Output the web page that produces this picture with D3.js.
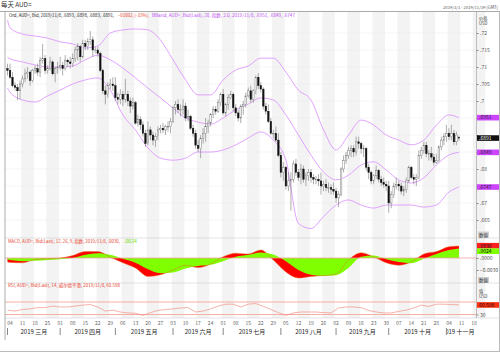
<!DOCTYPE html>
<html>
<head>
<meta charset="utf-8">
<script src="https://cdn.jsdelivr.net/npm/d3@7"></script>
<style>
body { margin: 0; background: #fff; }
text { font-family: "Noto Sans CJK SC", "Noto Sans", sans-serif; }
</style>
</head>
<body>
<div id="chart"></div>
<script>
const width = 500;
const height = 352;

// ---- data ----
const firstDay = "2019-03-01";
const axisEnd = "2019-11-19";

const opens = [.7095,.7090,.7070,.7045,.7040,.7030,.7050,.7065,.7080,.7085,.7060,
  .7090,.7095,.7085,.7120,.7125,.7090,.7095,.7115,.7080,.7095,
  .7100,.7105,.7095,.7120,.7115,.7110,.7125,.7150,.7160,.7130,
  .7170,.7160,.7175,.7180,.7150,.7150,.7140,.7090,.7030,.7020,
  .7045,.7050,.7045,.7010,.7005,.7020,.7005,.7020,.7000,.6985,
  .6995,.6935,.6945,.6930,.6905,.6875,.6915,.6900,.6885,.6895,
  .6915,.6920,.6915,.6925,.6925,.6940,.6980,.6990,.6975,.6975,
  .6985,.6950,.6955,.6920,.6905,.6870,.6860,.6890,.6905,.6925,
  .6935,.6960,.6975,.6970,.6995,.7020,.6965,.6990,.7010,.7020,
  .6980,.6965,.6950,.6985,.6990,.7015,.7030,.7005,.7030,.7070,
  .7045,.7035,.6985,.6970,.6940,.6905,.6905,.6885,.6840,.6790,
  .6805,.6750,.6765,.6770,.6815,.6790,.6775,.6800,.6770,.6780,
  .6790,.6775,.6770,.6770,.6765,.6750,.6755,.6745,.6745,.6740,
  .6735,.6715,.6725,.6800,.6825,.6840,.6855,.6860,.6850,.6880,
  .6875,.6860,.6860,.6805,.6790,.6765,.6780,.6795,.6770,.6760,
  .6755,.6750,.6700,.6725,.6750,.6755,.6750,.6735,.6740,.6765,
  .6805,.6775,.6770,.6775,.6840,.6855,.6870,.6845,.6845,.6835,
  .6820,.6825,.6865,.6885,.6895,.6905,.6895,.6905,.6880,.6893];

const highs = [.7110,.7110,.7085,.7055,.7050,.7060,.7075,.7095,.7100,.7090,.7095,
  .7105,.7110,.7130,.7168,.7135,.7105,.7130,.7120,.7100,.7115,
  .7130,.7115,.7135,.7125,.7130,.7140,.7160,.7170,.7165,.7180,
  .7180,.7185,.7206,.7190,.7160,.7160,.7145,.7095,.7045,.7055,
  .7065,.7070,.7070,.7025,.7035,.7030,.7065,.7030,.7010,.7010,
  .7000,.6960,.6955,.6940,.6915,.6940,.6925,.6910,.6905,.6925,
  .6930,.6935,.6930,.6940,.6950,.6985,.7000,.7005,.6990,.7005,
  .6995,.6975,.6960,.6930,.6915,.6885,.6900,.6920,.6950,.6945,
  .6965,.6985,.6985,.7005,.7025,.7035,.6995,.7020,.7030,.7025,
  .6990,.6975,.6990,.7000,.7025,.7040,.7045,.7035,.7075,.7082,
  .7055,.7040,.6995,.6990,.6950,.6915,.6925,.6905,.6850,.6820,
  .6810,.6790,.6790,.6825,.6830,.6800,.6815,.6810,.6790,.6800,
  .6800,.6785,.6780,.6785,.6790,.6765,.6770,.6760,.6755,.6760,
  .6745,.6735,.6805,.6840,.6850,.6865,.6870,.6870,.6895,.6895,
  .6880,.6870,.6865,.6815,.6795,.6785,.6810,.6800,.6780,.6775,
  .6765,.6765,.6735,.6760,.6775,.6765,.6760,.6750,.6775,.6810,
  .6810,.6785,.6785,.6855,.6865,.6880,.6880,.6855,.6865,.6845,
  .6845,.6870,.6895,.6905,.6930,.6920,.6930,.6915,.6910,.6898];

const lows = [.7075,.7065,.7040,.7030,.7003,.7005,.7040,.7055,.7065,.7045,.7055,
  .7080,.7075,.7070,.7110,.7080,.7080,.7090,.7075,.7055,.7080,
  .7090,.7075,.7090,.7100,.7095,.7100,.7115,.7120,.7115,.7125,
  .7150,.7150,.7165,.7130,.7140,.7130,.7085,.7020,.6990,.7010,
  .7035,.7030,.7000,.6990,.6990,.6985,.6995,.6985,.6965,.6975,
  .6930,.6925,.6915,.6895,.6865,.6870,.6885,.6870,.6865,.6885,
  .6905,.6905,.6900,.6910,.6905,.6935,.6960,.6965,.6955,.6960,
  .6940,.6940,.6915,.6895,.6860,.6850,.6832,.6875,.6880,.6905,
  .6925,.6950,.6960,.6965,.6985,.6960,.6955,.6975,.7005,.6970,
  .6955,.6940,.6935,.6960,.6980,.7010,.6995,.6995,.7020,.7035,
  .7025,.6975,.6960,.6935,.6900,.6890,.6880,.6835,.6775,.6765,
  .6740,.6735,.6677,.6760,.6780,.6765,.6755,.6760,.6750,.6765,
  .6760,.6755,.6755,.6750,.6725,.6735,.6735,.6730,.6725,.6725,
  .6700,.6688,.6720,.6790,.6815,.6830,.6835,.6835,.6840,.6860,
  .6845,.6835,.6795,.6770,.6755,.6755,.6770,.6760,.6750,.6745,
  .6735,.6671,.6685,.6715,.6740,.6735,.6725,.6720,.6730,.6760,
  .6770,.6755,.6750,.6770,.6830,.6845,.6835,.6825,.6825,.6810,
  .6815,.6820,.6855,.6870,.6880,.6885,.6885,.6870,.6870,.6883];

const closes = [.7090,.7070,.7045,.7040,.7030,.7050,.7065,.7080,.7085,.7060,.7090,
  .7095,.7085,.7120,.7125,.7090,.7095,.7115,.7080,.7095,.7100,
  .7105,.7095,.7120,.7115,.7110,.7125,.7150,.7160,.7130,.7170,
  .7160,.7175,.7180,.7150,.7150,.7140,.7090,.7030,.7020,.7045,
  .7050,.7045,.7010,.7005,.7020,.7005,.7020,.7000,.6985,.6995,
  .6935,.6945,.6930,.6905,.6875,.6915,.6900,.6885,.6895,.6915,
  .6920,.6915,.6925,.6925,.6940,.6980,.6990,.6975,.6975,.6985,
  .6950,.6955,.6920,.6905,.6870,.6860,.6890,.6905,.6925,.6935,
  .6960,.6975,.6970,.6995,.7020,.6965,.6990,.7010,.7020,.6980,
  .6965,.6950,.6985,.6990,.7015,.7030,.7005,.7030,.7070,.7045,
  .7035,.6985,.6970,.6940,.6905,.6905,.6885,.6840,.6790,.6805,
  .6750,.6765,.6770,.6815,.6790,.6775,.6800,.6770,.6780,.6790,
  .6775,.6770,.6770,.6765,.6750,.6755,.6745,.6745,.6740,.6735,
  .6715,.6725,.6800,.6825,.6840,.6855,.6860,.6850,.6880,.6875,
  .6860,.6860,.6805,.6790,.6765,.6780,.6795,.6770,.6760,.6755,
  .6750,.6700,.6725,.6750,.6755,.6750,.6735,.6740,.6765,.6805,
  .6775,.6770,.6775,.6840,.6855,.6870,.6845,.6845,.6835,.6820,
  .6825,.6865,.6885,.6895,.6905,.6895,.6905,.6880,.6900,.6891];

// weekly samples of the indicator curves
const weekDays = ["2019-03-01","2019-03-04","2019-03-11","2019-03-18","2019-03-25",
  "2019-04-01","2019-04-08","2019-04-15","2019-04-22","2019-04-29",
  "2019-05-06","2019-05-13","2019-05-20","2019-05-27",
  "2019-06-03","2019-06-10","2019-06-17","2019-06-24",
  "2019-07-01","2019-07-08","2019-07-15","2019-07-22","2019-07-29",
  "2019-08-05","2019-08-12","2019-08-19","2019-08-26",
  "2019-09-02","2019-09-09","2019-09-16","2019-09-23","2019-09-30",
  "2019-10-07","2019-10-14","2019-10-21","2019-10-28",
  "2019-11-04","2019-11-08"];

const bbUpper = [.7238,.7215,.7197,.7191,.7185,.7174,.7168,.7156,.7162,.7200,
  .7209,.7212,.7209,.7179,.7121,.7062,.7018,.7018,.7062,.7091,
  .7103,.7126,.7126,.7085,.7032,.7003,.6915,.6856,.6900,.6944,
  .6929,.6900,.6885,.6871,.6885,.6929,.6959,.6951];
const bbMiddle = [.7129,.7124,.7115,.7106,.7100,.7100,.7103,.7121,.7135,.7121,
  .7097,.7068,.7038,.7009,.6979,.6950,.6938,.6932,.6950,.6974,
  .6991,.7009,.7003,.6959,.6900,.6841,.6791,.6768,.6782,.6812,
  .6821,.6797,.6768,.6759,.6774,.6812,.6841,.6849];
const bbLower = [.7038,.7026,.7003,.6997,.7015,.7032,.7050,.7062,.7068,.7032,
  .6959,.6915,.6862,.6832,.6826,.6832,.6850,.6850,.6856,.6871,
  .6891,.6909,.6885,.6826,.6640,.6625,.6660,.6694,.6709,.6694,
  .6685,.6694,.6694,.6694,.6688,.6694,.6732,.6747];

const macdValues = [-.0010,-.0011,-.0012,-.0004,-.0002,.0000,.0006,.0016,.0016,.0002,
  -.0012,-.0025,-.0046,-.0042,-.0030,-.0018,-.0024,-.0015,.0003,.0012,
  .0010,.0020,-.0005,-.0035,-.0050,-.0046,-.0044,-.0040,-.0005,.0013,
  .0003,-.0012,-.0018,-.0010,.0010,.0016,.0028,.0030];
const signalValues = [-.0004,-.0005,-.0008,-.0007,-.0005,-.0003,.0000,.0008,.0012,.0008,
  -.0002,-.0012,-.0028,-.0038,-.0036,-.0026,-.0020,-.0017,-.0008,.0003,
  .0008,.0014,.0009,-.0008,-.0030,-.0042,-.0045,-.0043,-.0025,.0003,
  .0006,-.0003,-.0010,-.0013,-.0002,.0010,.0020,.0024];

// RSI, one reading every third trading day
const rsiEvery = 3;
const rsiValues = [44,41,46,48,52,52,57,54,54,57,60,62,54,41,44,38,35,34,27,36,
  43,46,48,51,52,38,41,48,57,63,63,54,63,65,56,46,36,27,35,38,
  38,38,36,35,51,54,54,52,43,38,35,35,40,44,51,60,56,63,63,62,60.598];

const priceTicks = [.72,.715,.71,.705,.7,.695,.69,.685,.68,.675,.67,.665];
const macdTicks = [0, -.003];
const monthNames = ["2019 三月","2019 四月","2019 五月","2019 六月","2019 七月",
  "2019 八月","2019 九月","2019 十月","2019 十一月"];

// ---- trading days ----
const parse = d3.timeParse("%Y-%m-%d");
const axisDays = d3.timeDay.range(parse(firstDay), d3.timeDay.offset(parse(axisEnd), 1))
  .filter(d => d.getDay() !== 0 && d.getDay() !== 6);
const dayIndex = s => axisDays.findIndex(d => +d === +parse(s));

const plotLeft = 5, plotRight = 476.5;
const mainTop = 12, mainBottom = 238, macdBottom = 283, rsiBottom = 318;

const x = d3.scaleLinear().domain([0, axisDays.length - 1]).range([7.5, 476.5]);
const step = x(1) - x(0);
const yPrice = d3.scaleLinear().domain([.665, .72]).range([220, 33]);
const yMacd = d3.scaleLinear().domain([0, .003]).range([258, 246]);
const yRsi = d3.scaleLinear().domain([30, 70]).range([314.5, 302]);

const svg = d3.select("#chart")
    .append("svg")
    .attr("width", width)
    .attr("height", height);

const defs = svg.append("defs");
[["clipMain", mainTop, mainBottom], ["clipMacd", mainBottom, macdBottom], ["clipRsi", macdBottom, rsiBottom]]
  .forEach(([id, t, b]) => {
    defs.append("clipPath").attr("id", id).append("rect")
      .attr("x", plotLeft).attr("y", t).attr("width", plotRight - plotLeft).attr("height", b - t);
  });

// weekly background stripes
const mondays = axisDays.map((d, i) => ({d, i})).filter(o => o.d.getDay() === 1);
svg.append("g").selectAll("rect")
    .data(mondays.filter((m, k) => k % 2 === 1))
    .enter()
    .append("rect")
    .attr("x", m => x(m.i) - step / 2)
    .attr("width", step * 5)
    .attr("y", mainTop)
    .attr("height", rsiBottom - mainTop)
    .attr("fill", "#f3f3f3");

// horizontal grid in price panel
svg.append("g").selectAll("line")
    .data(priceTicks)
    .enter()
    .append("line")
    .attr("x1", plotLeft).attr("x2", plotRight)
    .attr("y1", d => yPrice(d)).attr("y2", d => yPrice(d))
    .attr("stroke", "#ebebeb").attr("stroke-width", 0.5);

// title + header
svg.append("text").attr("x", 1).attr("y", 6.5).attr("font-size", 6.4).attr("fill", "#333").text("每天 AUD=");
svg.append("text").attr("x", 498).attr("y", 8.5).attr("text-anchor", "end").attr("font-size", 4.2)
    .attr("fill", "#555").text("2019/3/1 - 2019/11/19 (GMT)");
svg.append("line").attr("x1", 0).attr("x2", width).attr("y1", 11.5).attr("y2", 11.5)
    .attr("stroke", "#aaa").attr("stroke-width", 1);

// ---- Bollinger bands ----
const bandIdx = weekDays.map(dayIndex);
const bandLine = d3.line()
    .x((d, j) => x(bandIdx[j]))
    .y(d => yPrice(d))
    .curve(d3.curveMonotoneX);
const mainG = svg.append("g").attr("clip-path", "url(#clipMain)");
[bbUpper, bbMiddle, bbLower].forEach(vals => {
  mainG.append("path").attr("d", bandLine(vals))
    .attr("fill", "none").attr("stroke", "#d98cff").attr("stroke-width", 0.8);
});

// ---- candles ----
const candles = closes.map((c, i) => ({i, o: opens[i], h: highs[i], l: lows[i], c}));
mainG.selectAll("line.wick")
    .data(candles)
    .join("line")
    .attr("class", "wick")
    .attr("x1", d => x(d.i)).attr("x2", d => x(d.i))
    .attr("y1", d => yPrice(d.h)).attr("y2", d => yPrice(d.l))
    .attr("stroke", "#777").attr("stroke-width", 0.6);
mainG.selectAll("rect.body")
    .data(candles)
    .join("rect")
    .attr("class", "body")
    .attr("x", d => x(d.i) - 0.8)
    .attr("width", 1.6)
    .attr("y", d => yPrice(Math.max(d.o, d.c)))
    .attr("height", d => Math.max(0.6, Math.abs(yPrice(d.o) - yPrice(d.c))))
    .attr("fill", d => d.c >= d.o ? "#fff" : "#111")
    .attr("stroke", d => d.c >= d.o ? "#666" : "#111")
    .attr("stroke-width", 0.4);

// ---- MACD ----
const macdG = svg.append("g").attr("clip-path", "url(#clipMacd)");
const macdArea = vals => d3.area()
    .x((d, j) => x(bandIdx[j]))
    .y0(yMacd(0))
    .y1(d => yMacd(d))
    .curve(d3.curveMonotoneX)(vals);
macdG.append("path").attr("d", macdArea(macdValues)).attr("fill", "#ff0000");
macdG.append("path").attr("d", macdArea(signalValues)).attr("fill", "#80ff00");
macdG.append("line").attr("x1", plotLeft).attr("x2", plotRight)
    .attr("y1", yMacd(0)).attr("y2", yMacd(0)).attr("stroke", "#f0a0a0").attr("stroke-width", 0.8);
macdG.append("path")
    .attr("d", d3.line().x((d, j) => x(bandIdx[j])).y(d => yMacd(d)).curve(d3.curveMonotoneX)(macdValues))
    .attr("fill", "none").attr("stroke", "#e0702a").attr("stroke-width", 0.5);

// ---- RSI ----
const rsiG = svg.append("g").attr("clip-path", "url(#clipRsi)");
[70, 30].forEach(v => {
  rsiG.append("line").attr("x1", plotLeft).attr("x2", plotRight)
    .attr("y1", yRsi(v)).attr("y2", yRsi(v)).attr("stroke", "#f4a898").attr("stroke-width", 0.9);
});
rsiG.append("path")
    .attr("d", d3.line().x((d, k) => x(k * rsiEvery)).y(d => yRsi(d))(rsiValues))
    .attr("fill", "none").attr("stroke", "#f08070").attr("stroke-width", 0.6);

// panel separators and frame
[mainBottom, macdBottom, rsiBottom].forEach(yv => {
  svg.append("line").attr("x1", plotLeft).attr("x2", width).attr("y1", yv).attr("y2", yv)
    .attr("stroke", "#d0d0d0").attr("stroke-width", 0.6);
});
svg.append("line").attr("x1", plotLeft).attr("x2", plotLeft).attr("y1", mainTop).attr("y2", 340)
    .attr("stroke", "#999").attr("stroke-width", 0.8);
svg.append("line").attr("x1", plotRight).attr("x2", plotRight).attr("y1", mainTop).attr("y2", rsiBottom)
    .attr("stroke", "#999").attr("stroke-width", 0.6);
svg.append("line").attr("x1", width - 0.5).attr("x2", width - 0.5).attr("y1", mainTop).attr("y2", height)
    .attr("stroke", "#bbb").attr("stroke-width", 1);
svg.append("line").attr("x1", 0).attr("x2", width).attr("y1", height - 0.5).attr("y2", height - 0.5)
    .attr("stroke", "#bbb").attr("stroke-width", 1);

// ---- legends ----
function legend(parts, yv) {
  parts.forEach(p => {
    svg.append("text").attr("x", p.x0).attr("y", yv).attr("font-size", 4.4).attr("fill", p.color)
      .attr("textLength", p.x1 - p.x0).attr("lengthAdjust", "spacingAndGlyphs").text(p.t);
  });
}
const lastI = closes.length - 1;
const f4 = d3.format(".4f");
const fp = v => f4(v).replace(/^(-?)0/, "$1");
legend([
  {t: `Ord, AUD=, Bid, 2019/11/8, ${fp(opens[lastI])}, ${fp(highs[lastI])}, ${fp(lows[lastI])}, ${fp(closes[lastI])},`, color: "#222", x0: 9, x1: 114},
  {t: `${fp(closes[lastI] - opens[lastI])}, (-.03%),`, color: "#e8402a", x0: 118, x1: 149},
  {t: `BBand, AUD=, Bid(Last), 20, 指数, 2.0, 2019/11/8, ${fp(bbUpper[bbUpper.length - 1])}, ${fp(bbMiddle[bbMiddle.length - 1])}, ${fp(bbLower[bbLower.length - 1])}`, color: "#c050f0", x0: 152, x1: 295}
], 16.5);
legend([
  {t: `MACD, AUD=, Bid(Last), 12, 26, 9, 指数, 2019/11/8, ${fp(macdValues[macdValues.length - 1])},`, color: "#e8402a", x0: 8, x1: 120},
  {t: fp(signalValues[signalValues.length - 1]), color: "#66dd00", x0: 124, x1: 137}
], 242.5);
legend([
  {t: `RSI, AUD=, Bid(Last), 14, 威尔德平滑, 2019/11/8, ${rsiValues[rsiValues.length - 1]}`, color: "#e8402a", x0: 8, x1: 120}
], 287);

// ---- value tags (computed first so hidden tick labels can be skipped) ----
const tags = [
  {v: fp(bbUpper[bbUpper.length - 1]), y: yPrice(bbUpper[bbUpper.length - 1]), bg: "#cc44ff", fg: "#222"},
  {v: fp(closes[lastI]), y: yPrice(closes[lastI]), bg: "#111", fg: "#fff"},
  {v: fp(bbMiddle[bbMiddle.length - 1]), y: yPrice(bbMiddle[bbMiddle.length - 1]), bg: "#cc44ff", fg: "#222"},
  {v: fp(bbLower[bbLower.length - 1]), y: yPrice(bbLower[bbLower.length - 1]), bg: "#cc44ff", fg: "#222"},
  {v: fp(macdValues[macdValues.length - 1]), y: yMacd(macdValues[macdValues.length - 1]) - 0.3, bg: "#ff2020", fg: "#111"},
  {v: fp(signalValues[signalValues.length - 1]), y: yMacd(signalValues[signalValues.length - 1]) + 2.8, bg: "#80ff00", fg: "#111"},
  {v: String(rsiValues[rsiValues.length - 1]), y: yRsi(rsiValues[rsiValues.length - 1]), bg: "#ff3010", fg: "#111"}
];
const hidden = yv => tags.some(t => Math.abs(t.y - yv) < 6);

// ---- right axes ----
const axisStyle = g => {
  g.select(".domain").remove();
  g.selectAll(".tick line").attr("stroke", "#888");
  g.selectAll(".tick text").attr("font-size", 5).attr("fill", "#555")
    .attr("font-family", "'Noto Sans', sans-serif");
};
const trimZero = d => d3.format(".3~f")(d).replace(/^(-?)0/, "$1");
svg.append("g").attr("transform", `translate(${plotRight},0)`)
    .call(d3.axisRight(yPrice).tickValues(priceTicks).tickSize(2).tickPadding(1.5)
      .tickFormat(d => hidden(yPrice(d)) ? "" : trimZero(d)))
    .call(axisStyle);
svg.append("g").attr("transform", `translate(${plotRight},0)`)
    .call(d3.axisRight(yMacd).tickValues(macdTicks).tickSize(2).tickPadding(1.5).tickFormat(d => fp(d)))
    .call(axisStyle);
svg.append("g").attr("transform", `translate(${plotRight},0)`)
    .call(d3.axisRight(yRsi).tickValues([30]).tickSize(2).tickPadding(1.5).tickFormat(d3.format("d")))
    .call(axisStyle);

// axis titles
[["价格", 19.5], ["USD", 25]].forEach(([t, yv]) => {
  svg.append("text").attr("x", 479).attr("y", yv).attr("font-size", 4.2).attr("fill", "#444").text(t);
});
[["值", 293], ["USD", 298]].forEach(([t, yv]) => {
  svg.append("text").attr("x", 479).attr("y", yv).attr("font-size", 4.2).attr("fill", "#444").text(t);
});

tags.forEach(t => {
  svg.append("rect").attr("x", plotRight + 0.5).attr("y", t.y - 2.8).attr("width", width - plotRight - 1.5)
    .attr("height", 5.6).attr("fill", t.bg);
  svg.append("text").attr("x", 479).attr("y", t.y + 1.8).attr("font-size", 5).attr("fill", t.fg)
    .attr("font-family", "'Noto Sans', sans-serif").text(t.v);
});

// "数值" boxes
[234.5, 280].forEach(yv => {
  svg.append("rect").attr("x", 478).attr("y", yv - 3).attr("width", 11).attr("height", 6).attr("fill", "#cfcfcf");
  svg.append("text").attr("x", 479).attr("y", yv + 2).attr("font-size", 4.4).attr("fill", "#333").text("数值");
});

// ---- x axis ----
const fmtDay = d3.timeFormat("%d");
svg.append("g").selectAll("text")
    .data(mondays)
    .enter()
    .append("text")
    .attr("x", m => x(m.i))
    .attr("y", 324.5)
    .attr("text-anchor", "middle")
    .attr("font-size", 5)
    .attr("fill", "#666")
    .attr("font-family", "'Noto Sans', sans-serif")
    .text(m => fmtDay(m.d));

const monthStarts = axisDays.map((d, i) => ({d, i}))
    .filter((o, k, arr) => k === 0 || o.d.getMonth() !== arr[k - 1].d.getMonth());
const monthG = svg.append("g");
monthStarts.forEach((m, k) => {
  const x0 = x(m.i);
  const last = k === monthStarts.length - 1;
  const x1 = last ? plotRight : x(monthStarts[k + 1].i);
  monthG.append("line").attr("x1", x0).attr("x2", x0).attr("y1", 328).attr("y2", 335)
    .attr("stroke", "#555").attr("stroke-width", 0.7);
  const label = monthG.append("text")
    .attr("x", last ? x1 - 2 : (x0 + x1) / 2)
    .attr("y", 333.5)
    .attr("text-anchor", last ? "end" : "middle")
    .attr("font-size", 6)
    .attr("fill", "#222")
    .text(monthNames[k]);
  if (last) {
    // the short final month is cut at its separator
    defs.append("clipPath").attr("id", "clipLastMonth").append("rect")
      .attr("x", x0 + 0.6).attr("y", 325).attr("width", x1 - x0 - 0.6).attr("height", 12);
    label.attr("clip-path", "url(#clipLastMonth)");
  }
});
</script>
</body>
</html>
